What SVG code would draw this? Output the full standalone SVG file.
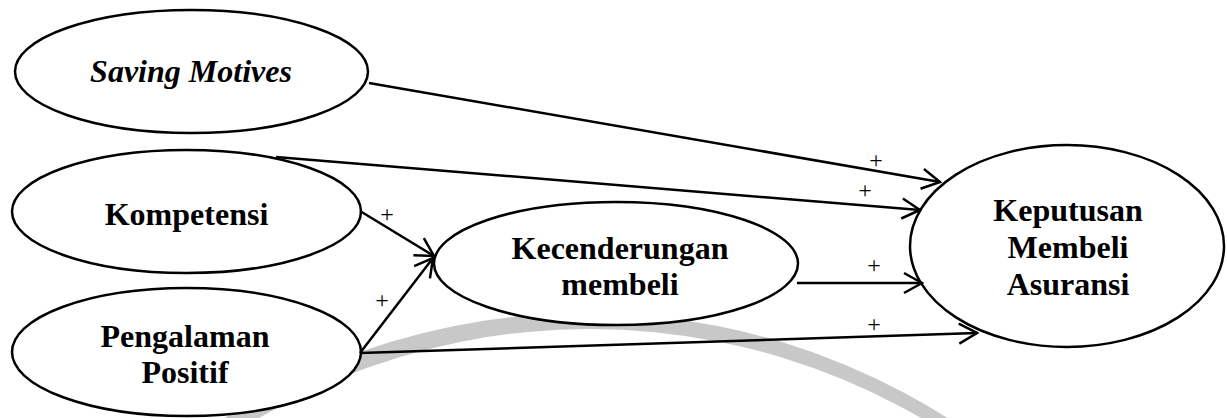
<svg xmlns="http://www.w3.org/2000/svg" width="1227" height="418" viewBox="0 0 1227 418">
  <style>
    .node { fill: #ffffff; stroke: #000000; stroke-width: 2.5; }
    .label { font-family: "Liberation Serif", "Times New Roman", serif; font-size: 32px; font-weight: bold; fill: #000000; text-anchor: middle; }
    .italic { font-style: italic; }
    .link { fill: none; stroke: #000000; stroke-width: 2.5; marker-end: url(#arrow); }
    .sign { font-family: "Liberation Serif", "Times New Roman", serif; font-size: 24px; fill: #000000; text-anchor: middle; }
    .ring { fill: #c8c8c8; fill-rule: evenodd; stroke: none; }
  </style>
  <defs>
    <marker id="arrow" markerUnits="userSpaceOnUse" markerWidth="24" markerHeight="24" viewBox="-22 -12 24 24" refX="0" refY="0" orient="auto">
      <path d="M -18 -10 L 0 0 L -18 10" fill="none" stroke="#000000" stroke-width="2.5" stroke-linejoin="miter"/>
    </marker>
  </defs>

  <rect width="1227" height="418" fill="#ffffff"/>

  <!-- faint background seal: a ring that is slightly thicker on its left side -->
  <g id="seal">
    <path class="ring" d="M 1261 988 A 675 675 0 1 0 -89 988 A 675 675 0 1 0 1261 988 Z
                          M 1250 989 A 660 660 0 1 0 -70 989 A 660 660 0 1 0 1250 989 Z"/>
  </g>

  <g id="saving-motives">
    <ellipse class="node" cx="191.5" cy="71.5" rx="176.5" ry="61.5"/>
    <text class="label italic" x="191" y="82">Saving Motives</text>
  </g>

  <g id="kompetensi">
    <ellipse class="node" cx="186.5" cy="211.5" rx="174.5" ry="61.5"/>
    <text class="label" x="186.5" y="225">Kompetensi</text>
  </g>

  <g id="pengalaman-positif">
    <ellipse class="node" cx="186.5" cy="352" rx="174.5" ry="64"/>
    <text class="label" x="185" y="347">Pengalaman</text>
    <text class="label" x="185" y="383">Positif</text>
  </g>

  <g id="kecenderungan-membeli">
    <ellipse class="node" cx="616" cy="263.5" rx="182" ry="61.5"/>
    <text class="label" x="620" y="259">Kecenderungan</text>
    <text class="label" x="620" y="295">membeli</text>
  </g>

  <g id="keputusan-membeli-asuransi">
    <ellipse class="node" cx="1067" cy="246" rx="157" ry="101"/>
    <text class="label" x="1068" y="221">Keputusan</text>
    <text class="label" x="1068" y="258">Membeli</text>
    <text class="label" x="1068" y="295">Asuransi</text>
  </g>

  <g id="connectors">
    <line class="link" x1="369" y1="83" x2="940" y2="182"/>
    <line class="link" x1="276" y1="157" x2="920" y2="210"/>
    <line class="link" x1="360" y1="211" x2="434" y2="256"/>
    <line class="link" x1="360" y1="353" x2="433" y2="258"/>
    <line class="link" x1="797" y1="283" x2="922" y2="283"/>
    <line class="link" x1="360" y1="353" x2="977" y2="333"/>

    <text class="sign" x="876" y="168">+</text>
    <text class="sign" x="865" y="198">+</text>
    <text class="sign" x="874" y="273">+</text>
    <text class="sign" x="874" y="332">+</text>
    <text class="sign" x="387" y="222">+</text>
    <text class="sign" x="382" y="308">+</text>
  </g>
</svg>
